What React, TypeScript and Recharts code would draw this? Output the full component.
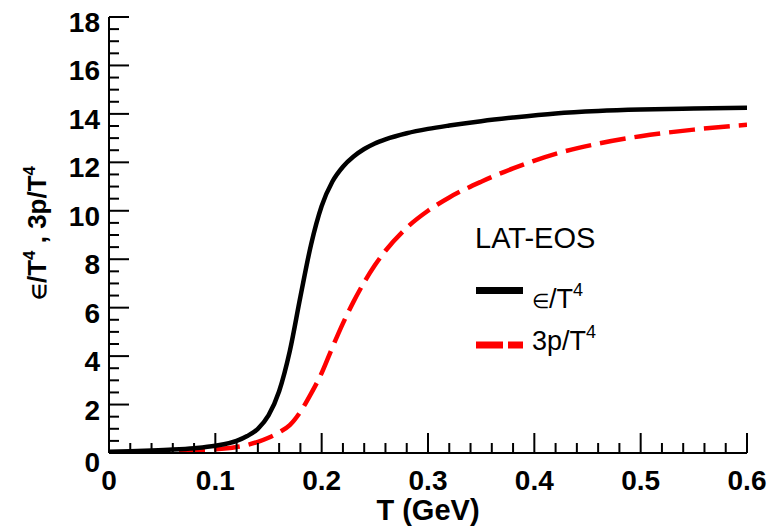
import React from "react";
import { LineChart, Line, XAxis, YAxis } from "recharts";

const temps = [0, 0.02, 0.04, 0.06, 0.08, 0.1, 0.12, 0.13, 0.14, 0.15, 0.16, 0.17, 0.18, 0.19, 0.2, 0.21, 0.22, 0.23, 0.24, 0.25, 0.26, 0.28, 0.3, 0.32, 0.35, 0.38, 0.42, 0.46, 0.5, 0.55, 0.6];
const energy = [0.05, 0.07, 0.1, 0.14, 0.2, 0.3, 0.5, 0.7, 1.0, 1.55, 2.55, 4.2, 6.45, 8.6, 10.2, 11.2, 11.82, 12.24, 12.55, 12.78, 12.95, 13.2, 13.38, 13.52, 13.7, 13.85, 14.02, 14.12, 14.18, 14.22, 14.25];
const pressure = [0.02, 0.03, 0.05, 0.07, 0.1, 0.15, 0.25, 0.33, 0.46, 0.63, 0.85, 1.15, 1.7, 2.45, 3.3, 4.35, 5.35, 6.25, 7.05, 7.75, 8.35, 9.3, 10.0, 10.55, 11.2, 11.75, 12.35, 12.77, 13.08, 13.35, 13.55];

const xMajorTicks = [0, 0.1, 0.2, 0.3, 0.4, 0.5, 0.6];
const xTickLabels = ["0", "0.1", "0.2", "0.3", "0.4", "0.5", "0.6"];
const xMinorStep = 0.02;
const yMajorTicks = [0, 2, 4, 6, 8, 10, 12, 14, 16, 18];
const yTickLabels = ["0", "2", "4", "6", "8", "10", "12", "14", "16", "18"];
const yMinorStep = 0.5;

const data = temps.map((t, i) => ({ T: t, e: energy[i], p: pressure[i] }));

const xTicks: number[] = [];
for (let k = 0; k <= Math.round(0.6 / xMinorStep); k++) xTicks.push(+(k * xMinorStep).toFixed(4));
const yTicks: number[] = [];
for (let k = 0; k <= Math.round(18 / yMinorStep); k++) yTicks.push(+(k * yMinorStep).toFixed(4));

const majorIndex = (v: number, majors: number[]) =>
  majors.findIndex((m) => Math.abs(m - v) < 1e-6);

const FONT = "'Liberation Sans', Arial, sans-serif";
const MAJ = 20;
const MIN = 10;

const BottomTick = (props: any) => {
  const { x, y, payload } = props;
  const idx = majorIndex(payload.value, xMajorTicks);
  const len = idx >= 0 ? MAJ : MIN;
  return (
    <g>
      <line x1={x} x2={x} y1={y} y2={y - len} stroke="#000" strokeWidth={2} />
      {idx >= 0 && (
        <text x={x} y={y + 37} textAnchor="middle" fontFamily={FONT} fontWeight="bold" fontSize={28} fill="#000">
          {xTickLabels[idx]}
        </text>
      )}
    </g>
  );
};

const TopTick = (props: any) => {
  const { x, y, payload } = props;
  const idx = majorIndex(payload.value, xMajorTicks);
  const len = idx >= 0 ? MAJ : MIN;
  return <line x1={x} x2={x} y1={y} y2={y + len} stroke="#000" strokeWidth={2} />;
};

const LeftTick = (props: any) => {
  const { x, y, payload } = props;
  const idx = majorIndex(payload.value, yMajorTicks);
  const len = idx >= 0 ? MAJ : MIN;
  return (
    <g>
      <line x1={x} x2={x + len} y1={y} y2={y} stroke="#000" strokeWidth={2} />
      {idx >= 0 && (
        <text x={x - 9} y={y + (idx === 0 ? 19 : 15)} textAnchor="end" fontFamily={FONT} fontWeight="bold" fontSize={28} fill="#000">
          {yTickLabels[idx]}
        </text>
      )}
    </g>
  );
};

const RightTick = (props: any) => {
  const { x, y, payload } = props;
  const idx = majorIndex(payload.value, yMajorTicks);
  const len = idx >= 0 ? MAJ : MIN;
  return <line x1={x} x2={x - len} y1={y} y2={y} stroke="#000" strokeWidth={2} />;
};

const axisLine = { stroke: "#000", strokeWidth: 2 };

export default function App() {
  return (
    <div style={{ position: "absolute", left: 0, top: 0, width: 776, height: 526, background: "#fff" }}>
      <LineChart width={776} height={526} data={data} margin={{ top: 17, right: 29, bottom: 0, left: 0 }}>
        <XAxis
          xAxisId="b"
          dataKey="T"
          type="number"
          domain={[0, 0.6]}
          ticks={xTicks}
          interval={0}
          height={73}
          tickSize={0}
          tickMargin={0}
          tickLine={false}
          axisLine={axisLine}
          tick={BottomTick}
          allowDataOverflow
        />
        <XAxis
          xAxisId="t"
          orientation="top"
          dataKey="T"
          type="number"
          domain={[0, 0.6]}
          ticks={xTicks}
          interval={0}
          height={0}
          tickSize={0}
          tickMargin={0}
          tickLine={false}
          axisLine={axisLine}
          tick={TopTick}
        />
        <YAxis
          yAxisId="l"
          type="number"
          domain={[0, 18]}
          ticks={yTicks}
          interval={0}
          width={109}
          tickSize={0}
          tickMargin={0}
          tickLine={false}
          axisLine={axisLine}
          tick={LeftTick}
          allowDataOverflow
        />
        <YAxis
          yAxisId="r"
          orientation="right"
          type="number"
          domain={[0, 18]}
          ticks={yTicks}
          interval={0}
          width={0}
          tickSize={0}
          tickMargin={0}
          tickLine={false}
          axisLine={axisLine}
          tick={RightTick}
        />
        <Line
          xAxisId="b"
          yAxisId="l"
          type="monotone"
          dataKey="p"
          stroke="#ff0000"
          strokeWidth={4.5}
          strokeDasharray="26 9"
          dot={false}
          isAnimationActive={false}
        />
        <Line
          xAxisId="b"
          yAxisId="l"
          type="monotone"
          dataKey="e"
          stroke="#000"
          strokeWidth={4.5}
          dot={false}
          isAnimationActive={false}
        />
      </LineChart>
      <svg width={776} height={526} style={{ position: "absolute", left: 0, top: 0, pointerEvents: "none" }}>
        <text x={428} y={520} textAnchor="middle" fontFamily={FONT} fontWeight="bold" fontSize={29} fill="#000">
          T (GeV)
        </text>
        <text
          x={46}
          y={233}
          transform="rotate(-90, 46, 233)"
          textAnchor="middle"
          fontFamily={FONT}
          fontWeight="bold"
          fontSize={26}
          fill="#000"
        >
          <tspan fontSize={19}>∈</tspan>
          <tspan>/T</tspan>
          <tspan dy={-11} fontSize={17}>4</tspan>
          <tspan dy={11}> , 3p/T</tspan>
          <tspan dy={-11} fontSize={17}>4</tspan>
        </text>
        <text x={475} y={248} fontFamily={FONT} fontSize={29} fill="#000">LAT-EOS</text>
        <line x1={476} x2={523} y1={290.5} y2={290.5} stroke="#000" strokeWidth={7} />
        <text x={532} y={308} fontFamily={FONT} fontSize={27} fill="#000">
          <tspan fontSize={20}>∈</tspan>
          <tspan>/T</tspan>
          <tspan dy={-12} fontSize={18}>4</tspan>
        </text>
        <line x1={476} x2={523} y1={345} y2={345} stroke="#ff0000" strokeWidth={7} strokeDasharray="27 5" />
        <text x={532} y={350} fontFamily={FONT} fontSize={27} fill="#000">
          <tspan>3p/T</tspan>
          <tspan dy={-12} fontSize={18}>4</tspan>
        </text>
      </svg>
    </div>
  );
}
